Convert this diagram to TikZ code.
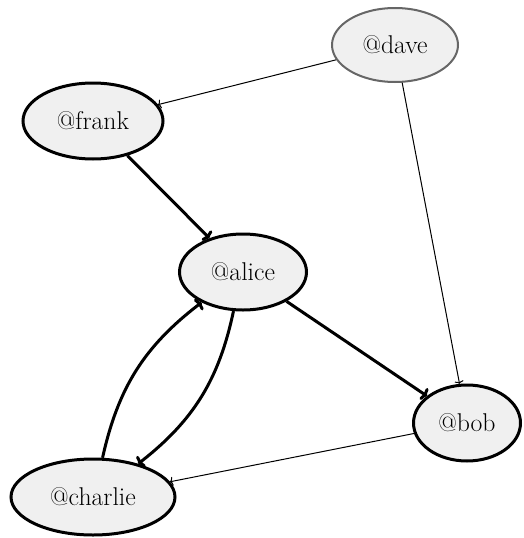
\documentclass[tikz,border=0pt]{standalone}
\usetikzlibrary{shapes.geometric,arrows.meta}
\definecolor{nodefill}{HTML}{F0F0F0}
\definecolor{softborder}{HTML}{666666}
\begin{document}
\begin{tikzpicture}[x=1pt,y=-1pt,
  user/.style={ellipse,draw=black,line width=3pt,fill=nodefill,inner sep=0pt,
    minimum height=76pt,font=\fontsize{25.7}{30}\selectfont},
  quiet/.style={user,draw=softborder,line width=2pt},
  strong/.style={line width=3pt,-{To[length=5pt,width=14pt]}},
  weak/.style={line width=1pt,-{To[length=3pt,width=9pt]}}]
  \useasboundingbox (0,0) rectangle (523,538);

  \node[quiet,minimum width=126pt,minimum height=74pt] (dave) at (395,45) {@dave};
  \node[user,minimum width=140pt] (frank) at (93,121) {@frank};
  \node[user,minimum width=127pt] (alice) at (243,272) {@alice};
  \node[user,minimum width=107pt] (bob) at (467,423) {@bob};
  \node[user,minimum width=164pt] (charlie) at (93,497) {@charlie};

  \draw[weak] (dave) -- (frank);
  \draw[weak] (dave) -- (bob);
  \draw[strong] (frank) -- (alice);
  \draw[strong] (alice) -- (bob);
  \draw[weak] (bob) -- (charlie);
  \draw[strong] (charlie) to[bend left=20] (alice);
  \draw[strong] (alice) to[bend left=20] (charlie);
\end{tikzpicture}
\end{document}
